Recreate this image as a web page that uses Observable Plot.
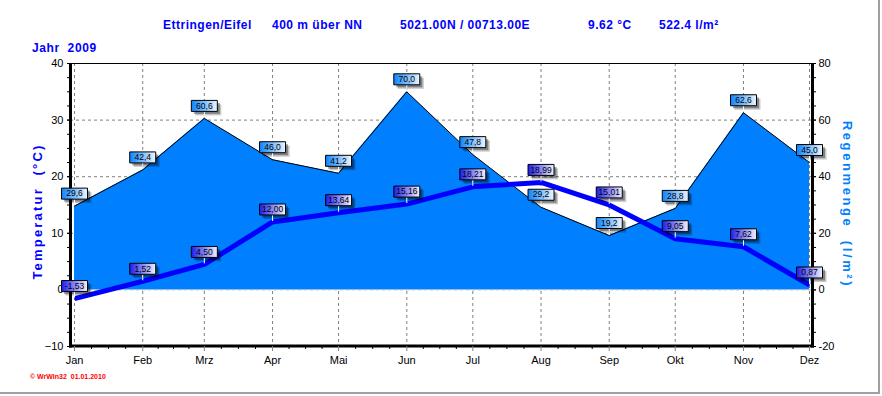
<!DOCTYPE html>
<html><head><meta charset="utf-8">
<script src="https://cdn.jsdelivr.net/npm/d3@7"></script>
<script src="https://cdn.jsdelivr.net/npm/@observablehq/plot@0.6"></script>
<style>
body{margin:0;background:#fff;font-family:"Liberation Sans",Arial,sans-serif;}
#wrap{position:relative;width:882px;height:396px;overflow:hidden;background:#fff;}
#chart{position:absolute;left:0;top:0;}
.t{position:absolute;white-space:pre;font-weight:bold;color:#0000ff;font-size:12px;line-height:14px;letter-spacing:0.5px;}
.rot{position:absolute;white-space:pre;font-weight:bold;font-size:13px;line-height:15px;transform-origin:center center;}
#border{position:absolute;left:0;top:0;width:878px;height:392px;border-right:2px solid #a0a0a0;border-bottom:2px solid #a0a0a0;pointer-events:none;}
#cap{position:absolute;left:30px;top:373px;font-size:7px;font-weight:bold;color:#ff0000;white-space:pre;line-height:8px;}
</style></head><body>
<div id="wrap">
  <div id="chart"></div>
  <div class="t" style="left:163px;top:18px">Ettringen/Eifel</div>
  <div class="t" style="left:272px;top:18px">400 m über NN</div>
  <div class="t" style="left:400px;top:18px">5021.00N / 00713.00E</div>
  <div class="t" style="left:588px;top:18px">9.62 °C</div>
  <div class="t" style="left:659px;top:18px">522.4 l/m²</div>
  <div class="t" style="left:32px;top:41px;letter-spacing:0.6px">Jahr  2009</div>
  <div class="rot" id="ttl" style="color:#0000ff;letter-spacing:2.2px">Temperatur  (°C)</div>
  <div class="rot" id="rtl" style="color:#0080ff;letter-spacing:2.6px">Regenmenge  (l/m²)</div>
  <div id="cap">© WrWin32  01.01.2010</div>
  <div id="border"></div>
</div>
<script>
const months = ["Jan","Feb","Mrz","Apr","Mai","Jun","Jul","Aug","Sep","Okt","Nov","Dez"];
const temperature = [-1.53,1.52,4.50,12.00,13.64,15.16,18.21,18.99,15.01,9.05,7.62,0.87];
const rain = [29.6,42.4,60.6,46.0,41.2,70.0,47.8,29.2,19.2,28.8,62.6,45.0];
const year = 2009;
const tempTicks = [-10,0,10,20,30,40];
const gridTemps = [10,20,30];

const data = months.map((m,i)=>({month:m, date:new Date(Date.UTC(year,i,1)), temp:temperature[i], rain:rain[i]}));
const monthDates = data.map(d=>d.date);
const minorX = [];
for (let i=0;i<11;i++){
  const a = +monthDates[i], b = +monthDates[i+1];
  for (let k=1;k<4;k++) minorX.push(new Date(a + (b-a)*k/4));
}
const minorY = d3.range(-10, 40.01, 2.5);
const fmt = (v,n)=>v.toFixed(n).replace(".",",");

function defs(){
  const d = d3.create("svg:defs");
  const g1 = d.append("linearGradient").attr("id","gT").attr("x1",0).attr("x2",1).attr("y1",0).attr("y2",0);
  g1.append("stop").attr("offset",0).attr("stop-color","#1c1cf0");
  g1.append("stop").attr("offset",1).attr("stop-color","#f2f2ff");
  const g2 = d.append("linearGradient").attr("id","gR").attr("x1",0).attr("x2",1).attr("y1",0).attr("y2",0);
  g2.append("stop").attr("offset",0).attr("stop-color","#0a84ff");
  g2.append("stop").attr("offset",1).attr("stop-color","#eef6ff");
  return d.node();
}
function frameLines(index, scales, values, dims){
  const l = dims.marginLeft, r = dims.width - dims.marginRight, t = dims.marginTop, b = dims.height - dims.marginBottom;
  const g = d3.create("svg:g").attr("stroke","#000").attr("fill","none");
  g.append("line").attr("x1",l).attr("x2",r).attr("y1",t+0.5).attr("y2",t+0.5).attr("stroke-width",1);
  g.append("line").attr("x1",l+0.5).attr("x2",l+0.5).attr("y1",t).attr("y2",b+1.5).attr("stroke-width",3);
  g.append("line").attr("x1",r+0.5).attr("x2",r+0.5).attr("y1",t).attr("y2",b+1.5).attr("stroke-width",3);
  g.append("line").attr("x1",l-1).attr("x2",r+2).attr("y1",b).attr("y2",b).attr("stroke-width",3);
  return g.node();
}
const boxSym = {draw(ctx){ ctx.rect(-13,-18,26,11); }};
const stemSym = {draw(ctx){ ctx.moveTo(0,-7); ctx.lineTo(0,-1); }};
function labels(yAcc, textAcc, grad){
  return [
    Plot.dot(data,{x:"date",y:yAcc,symbol:boxSym,fill:"#000",fillOpacity:0.22,stroke:"none",dx:4,dy:4}),
    Plot.dot(data,{x:"date",y:yAcc,symbol:boxSym,fill:"#000",fillOpacity:0.35,stroke:"none",dx:2.5,dy:2.5}),
    Plot.dot(data,{x:"date",y:yAcc,symbol:stemSym,fill:"none",stroke:"#fff",strokeWidth:1}),
    Plot.dot(data,{x:"date",y:yAcc,symbol:boxSym,fill:`url(#${grad})`,stroke:"#000",strokeWidth:1}),
    Plot.text(data,{x:"date",y:yAcc,text:textAcc,dy:-12.5,fontSize:8.5,fill:"#000",fontFamily:"Liberation Sans, Arial, sans-serif"})
  ];
}

const chart = Plot.plot({
  width:882, height:396,
  marginLeft:70, marginRight:70, marginTop:63, marginBottom:50,
  style:{fontFamily:"Liberation Sans, Arial, sans-serif", fontSize:"11px", color:"#000", background:"transparent"},
  x:{type:"utc", domain:[monthDates[0], monthDates[11]], insetLeft:4, insetRight:3},
  y:{domain:[-10,40]},
  marks:[
    defs,
    Plot.gridY({ticks:gridTemps, stroke:"#808080", strokeOpacity:1, strokeDasharray:"3,3"}),
    Plot.gridX({ticks:monthDates, stroke:"#808080", strokeOpacity:1, strokeDasharray:"3,3"}),
    Plot.areaY(data,{x:"date", y1:0, y2:d=>d.rain/2, fill:"#0080ff"}),
    Plot.lineY(data,{x:"date", y:d=>d.rain/2, stroke:"#000", strokeWidth:1}),
    Plot.ruleY([0],{stroke:"#b8b8b8", strokeDasharray:"3,3"}),
    Plot.lineY(data,{x:"date", y:"temp", stroke:"#0000ff", strokeWidth:5, strokeLinecap:"butt"}),
    frameLines,
    Plot.axisX({ticks:monthDates, tickFormat:(d,i)=>months[i], tickSize:5, tickPadding:5, stroke:"#808080", fill:"#000", label:null, fontSize:11}),
    Plot.axisX({ticks:minorX, tickFormat:()=>"", tickSize:3, stroke:"#000", label:null}),
    Plot.axisY({ticks:tempTicks, tickSize:3, tickPadding:4, label:null, fontSize:11}),
    Plot.axisY({ticks:minorY, tickSize:3, tickFormat:()=>"", label:null}),
    Plot.axisY({anchor:"right", ticks:tempTicks, tickFormat:d=>d*2, tickSize:3, tickPadding:3, label:null, fontSize:11}),
    Plot.axisY({anchor:"right", ticks:minorY, tickSize:3, tickFormat:()=>"", label:null}),
    ...labels(d=>d.rain/2, d=>fmt(d.rain,1), "gR"),
    ...labels("temp", d=>fmt(d.temp,2), "gT")
  ]
});
document.getElementById("chart").appendChild(chart);

function placeRot(id, cx, cy, deg){
  const el = document.getElementById(id);
  const w = el.offsetWidth, h = el.offsetHeight;
  el.style.left = (cx - w/2) + "px";
  el.style.top = (cy - h/2) + "px";
  el.style.transform = `rotate(${deg}deg)`;
}
placeRot("ttl", 37, 211, -90);
placeRot("rtl", 847, 204, 90);
</script>
</body></html>
